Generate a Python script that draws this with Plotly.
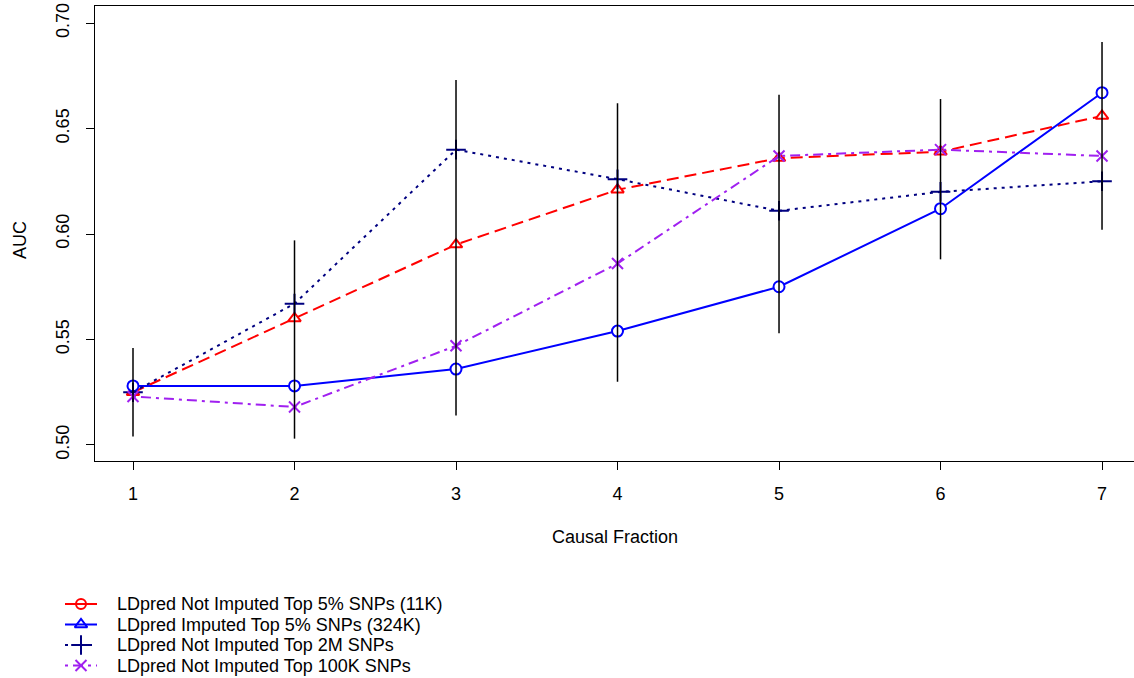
import plotly.graph_objects as go

# Causal fraction index on the x axis
causal_fraction = [1, 2, 3, 4, 5, 6, 7]

# Mean AUC per method
auc_top5_not_imputed = [0.525, 0.560, 0.595, 0.621, 0.636, 0.639, 0.656]
auc_top5_imputed = [0.528, 0.528, 0.536, 0.554, 0.575, 0.612, 0.667]
auc_top2m_not_imputed = [0.525, 0.567, 0.640, 0.626, 0.611, 0.620, 0.625]
auc_top100k_not_imputed = [0.523, 0.518, 0.547, 0.586, 0.637, 0.640, 0.637]

# Spread of AUC at each causal fraction
auc_low = [0.504, 0.503, 0.514, 0.530, 0.553, 0.588, 0.602]
auc_high = [0.546, 0.597, 0.673, 0.662, 0.666, 0.664, 0.691]

legend_labels = [
    "LDpred Not Imputed Top 5% SNPs (11K)",
    "LDpred Imputed Top 5% SNPs (324K)",
    "LDpred Not Imputed Top 2M SNPs",
    "LDpred Not Imputed Top 100K SNPs",
]

y_ticks = [0.50, 0.55, 0.60, 0.65, 0.70]
y_tick_text = ["0.50", "0.55", "0.60", "0.65", "0.70"]

FONT = "Liberation Sans, Arial, sans-serif"
FS = 18
W, H = 1134, 678

fig = go.Figure()

# (values, colour, dash, symbol, size, filled-with-white)
series = [
    (auc_top5_not_imputed, "red", "12px,6px", "triangle-up", 11, True),
    (auc_top5_imputed, "blue", "solid", "circle", 11, True),
    (auc_top2m_not_imputed, "#000080", "3px,5px", "cross-thin-open", 14, False),
    (auc_top100k_not_imputed, "#A020F0", "3px,5px,10px,5px", "x-thin-open", 11, False),
]

for values, color, dash, symbol, size, filled in series:
    fig.add_trace(go.Scatter(
        x=causal_fraction, y=values, mode="lines+markers",
        line=dict(color=color, width=2, dash=dash),
        marker=dict(symbol=symbol, size=size,
                    color="white" if filled else color,
                    line=dict(color=color, width=2)),
        showlegend=False, hoverinfo="skip",
    ))

# Vertical spread bars
bar_x, bar_y = [], []
for xv, lo, hi in zip(causal_fraction, auc_low, auc_high):
    bar_x += [xv, xv, None]
    bar_y += [lo, hi, None]
fig.add_trace(go.Scatter(
    x=bar_x, y=bar_y, mode="lines",
    line=dict(color="black", width=1.5),
    showlegend=False, hoverinfo="skip",
))

# Legend key, drawn on its own pixel-scaled axes below the plot
legend_styles = [
    ("red", "solid", "circle-open", 10),
    ("blue", "solid", "triangle-up-open", 11),
    ("#000080", "3px,5px", "cross-thin-open", 14),
    ("#A020F0", "3px,5px,10px,5px", "x-thin-open", 11),
]
key_x0, key_x1, text_x = 65, 97, 115
row_y0, row_step = 604, 20.5
for i, (label, (color, dash, symbol, size)) in enumerate(zip(legend_labels, legend_styles)):
    ry = row_y0 + i * row_step
    fig.add_trace(go.Scatter(
        x=[key_x0, key_x1], y=[ry, ry], mode="lines",
        line=dict(color=color, width=2, dash=dash),
        xaxis="x2", yaxis="y2", showlegend=False, hoverinfo="skip",
    ))
    fig.add_trace(go.Scatter(
        x=[(key_x0 + key_x1) / 2], y=[ry], mode="markers",
        marker=dict(symbol=symbol, size=size, color=color,
                    line=dict(color=color, width=2)),
        xaxis="x2", yaxis="y2", showlegend=False, hoverinfo="skip",
    ))
    fig.add_annotation(
        x=text_x, y=ry, xref="x2", yref="y2", text=label, showarrow=False,
        xanchor="left", yanchor="middle",
        font=dict(family=FONT, size=FS, color="black"),
    )

plot_left, plot_top, plot_bottom = 95, 6, 461

fig.update_layout(
    width=W, height=H,
    margin=dict(l=0, r=0, t=0, b=0, autoexpand=False),
    paper_bgcolor="white", plot_bgcolor="white",
    font=dict(family=FONT, size=FS, color="black"),
    showlegend=False,
    xaxis=dict(
        domain=[plot_left / W, 1.0],
        range=[0.7647, 7.198], tickvals=causal_fraction,
        ticks="outside", ticklen=8, tickwidth=1, tickcolor="black",
        ticklabelstandoff=8,
        showline=True, linecolor="black", linewidth=1, mirror=True,
        showgrid=False, zeroline=False,
    ),
    yaxis=dict(
        domain=[1 - plot_bottom / H, 1 - plot_top / H],
        range=[0.4924, 0.7081], tickvals=y_ticks, ticktext=y_tick_text,
        tickangle=-90,
        ticks="outside", ticklen=8, tickwidth=1, tickcolor="black",
        ticklabelstandoff=10,
        showline=True, linecolor="black", linewidth=1, mirror=True,
        showgrid=False, zeroline=False,
    ),
    xaxis2=dict(
        domain=[0, 0.5], range=[0, W / 2], anchor="y2",
        visible=False, fixedrange=True,
    ),
    yaxis2=dict(
        domain=[0, 0.16], range=[H, H - 0.16 * H], anchor="x2",
        visible=False, fixedrange=True,
    ),
)

# Axis titles
fig.add_annotation(
    x=(plot_left + W) / 2 / W, y=1 - 537 / H, xref="paper", yref="paper",
    text="Causal Fraction", showarrow=False, xanchor="center", yanchor="middle",
    font=dict(family=FONT, size=FS, color="black"),
)
fig.add_annotation(
    x=20 / W, y=1 - 240 / H, xref="paper", yref="paper",
    text="AUC", showarrow=False, textangle=-90, xanchor="center", yanchor="middle",
    font=dict(family=FONT, size=FS, color="black"),
)

fig.write_html("out.html")
